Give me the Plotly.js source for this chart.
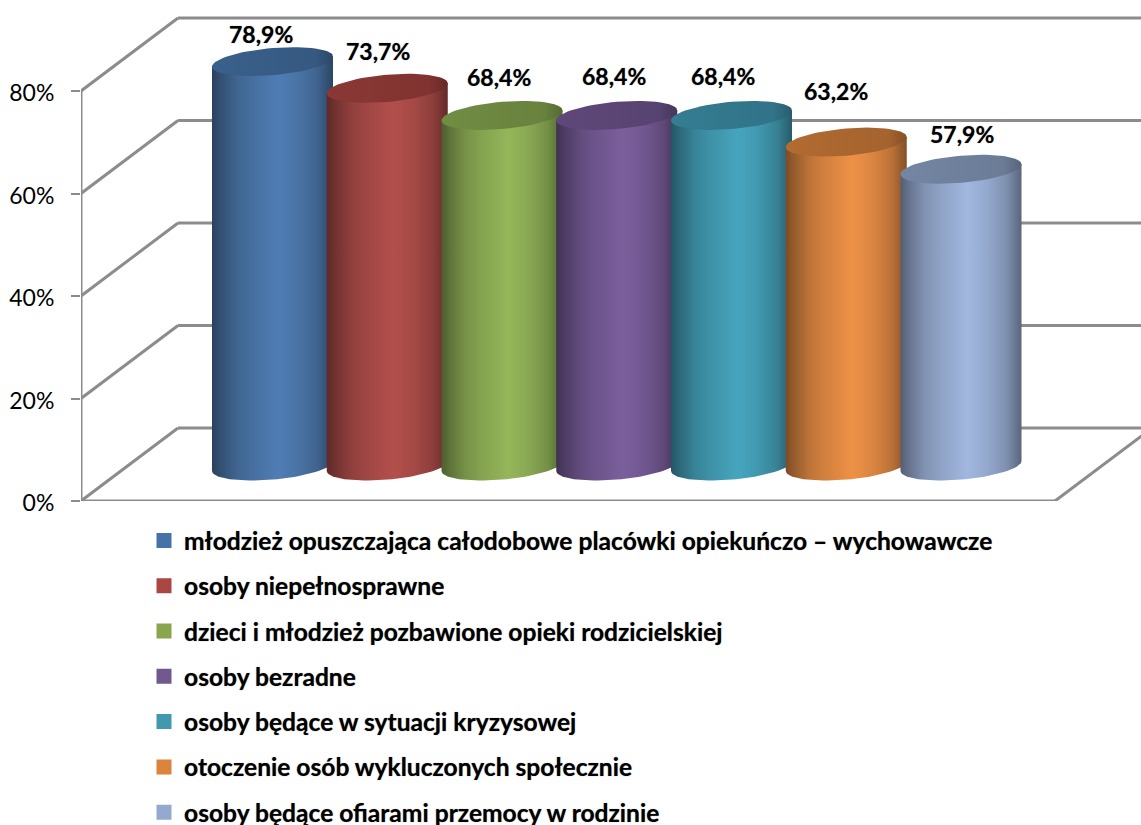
<!DOCTYPE html>
<html>
<head>
<meta charset="utf-8">
<script src="https://cdn.plot.ly/plotly-3.0.1.min.js"></script>
<style>html,body{margin:0;padding:0;background:#fff;overflow:hidden}</style>
</head>
<body>
<div id="chart" style="width:1141px;height:825px"></div>
<script>
const categories = [
  "młodzież opuszczająca całodobowe placówki opiekuńczo – wychowawcze",
  "osoby niepełnosprawne",
  "dzieci i młodzież pozbawione opieki rodzicielskiej",
  "osoby bezradne",
  "osoby będące w sytuacji kryzysowej",
  "otoczenie osób wykluczonych społecznie",
  "osoby będące ofiarami przemocy w rodzinie"
];
const values = [78.9, 73.7, 68.4, 68.4, 68.4, 63.2, 57.9];
const tickValues = [0, 20, 40, 60, 80];
const barColors = ["#4f7db3", "#b34f4c", "#95b75a", "#7b5f9d", "#46a5be", "#ee9147", "#a1b7df"];
const topColors = ["#375c85", "#843532", "#6c8640", "#5a4574", "#32778c", "#aa662f", "#6f809c"];
const legendColors = ["#4572a7", "#aa4643", "#89a54e", "#71588f", "#4198af", "#db843d", "#93a9cf"];
const labelDx = [-11.5, -9.75, -3, -2.75, -8.5, -10.25, 0.5];
const labelDy = [27.6, 37.3, 38.5, 39.5, 39.5, 51.1, 35.3];

const FONT = "Lato, sans-serif";
const GRID = "#8c8c8c";
const BLUR = "0 0 1px rgba(0,0,0,0.55)";
const pxPerX = 114.75, pxPerY = 5.125;
const plotLeft = 81, plotBottom = 501, firstCenter = 272.5;
const xRange = [(plotLeft - firstCenter) / pxPerX, (1141 - firstCenter) / pxPerX];
const yTop = plotBottom / pxPerY;
const baseLift = 35 / pxPerY;
const depthX = 97 / pxPerX, depthY = 73 / pxPerY;
const floorEndX = (1055 - firstCenter) / pxPerX;
const rx = 60.5 / pxPerX, ry = 13.6 / pxPerY, tilt = 5 / pxPerY;

function shade(hex, f) {
  const n = parseInt(hex.slice(1), 16);
  const c = [n >> 16, (n >> 8) & 255, n & 255].map(v => Math.round(v * f));
  return `rgb(${c[0]},${c[1]},${c[2]})`;
}
const bodyStops = [[0, .52], [.06, .62], [.2, .8], [.32, .88], [.55, 1], [.72, .92], [.88, .78], [1, .55]];
const topStops = [[0, 1.05], [.5, 1], [.85, .97], [1, .78]];
function ramp(stops, hex) { return stops.map(s => [s[0], shade(hex, s[1])]); }

function arc(cx, cy, from, to, n) {
  const xs = [], ys = [];
  for (let k = 0; k <= n; k++) {
    const t = from + (to - from) * k / n;
    xs.push(cx + rx * Math.cos(t));
    ys.push(cy + ry * Math.sin(t) + tilt * Math.cos(t));
  }
  return [xs, ys];
}

const bars = categories.map((name, i) => ({
  type: "bar", name, x: [i], y: [values[i]], width: 0.88, yaxis: "y2",
  marker: {color: legendColors[i], line: {color: legendColors[i], width: 3}},
  legendgroup: "g" + i, hovertemplate: "%{y}%<extra></extra>"
}));

const cylinders = [];
categories.forEach((name, i) => {
  const [bx, by] = arc(i, 0, Math.PI, 2 * Math.PI, 40);
  const body = {
    type: "scatter", mode: "lines", yaxis: "y2", showlegend: false, hoverinfo: "skip",
    x: [...bx, i + rx, i - rx, bx[0]],
    y: [...by, values[i] + tilt, values[i] - tilt, by[0]],
    line: {width: 0}, fill: "toself",
    fillgradient: {type: "horizontal", colorscale: ramp(bodyStops, barColors[i])}
  };
  const [tx, ty] = arc(i, values[i], 0, 2 * Math.PI, 72);
  const top = {
    type: "scatter", mode: "lines", yaxis: "y2", showlegend: false, hoverinfo: "skip",
    x: tx, y: ty, line: {width: 0}, fill: "toself",
    fillgradient: {type: "horizontal", colorscale: ramp(topStops, topColors[i])}
  };
  cylinders.push(body, top);
});

const wall = {color: GRID, width: 3};
const shapes = [];
function seg(x0, y0, x1, y1) {
  shapes.push({type: "line", layer: "below", xref: "x", yref: "y", x0, y0, x1, y1, line: wall});
}
tickValues.forEach(v => {
  seg(xRange[0], v, xRange[0] + depthX, v + depthY);
  seg(xRange[0] + depthX, v + depthY, xRange[1], v + depthY);
});
seg(xRange[0], 0, xRange[0], tickValues[tickValues.length - 1]);
seg(xRange[0], 0, floorEndX, 0);
seg(floorEndX, 0, floorEndX + depthX, depthY);

const annotations = values.map((v, i) => ({
  xref: "x", yref: "y2", x: i, y: v, xshift: labelDx[i], yshift: labelDy[i],
  text: v.toFixed(1).replace(".", ",") + "%", showarrow: false, xanchor: "center", yanchor: "middle",
  font: {family: FONT, size: 23, color: "#000", weight: 700, shadow: BLUR}
}));

const layout = {
  width: 1141, height: 825, paper_bgcolor: "#fff", plot_bgcolor: "rgba(0,0,0,0)",
  margin: {l: plotLeft, r: 0, t: 0, b: 825 - plotBottom, pad: 0, autoexpand: false},
  barmode: "overlay", showlegend: true, shapes, annotations,
  xaxis: {range: xRange, visible: false, fixedrange: true},
  yaxis: {range: [0, yTop], tickvals: tickValues, ticktext: tickValues.map(v => v + "%"),
    ticks: "outside", ticklen: 9, tickwidth: 2, tickcolor: GRID, showgrid: false, zeroline: false, showline: false,
    ticklabelstandoff: 12, ticklabelshift: 2,
    tickfont: {family: FONT, size: 23, color: "#000"}, fixedrange: true},
  yaxis2: {range: [-baseLift, yTop - baseLift], overlaying: "y", visible: false, fixedrange: true},
  legend: {xref: "container", yref: "container", x: 155.5 / 1141, xanchor: "left", y: 1 - 518 / 825, yanchor: "top",
    orientation: "v", traceorder: "grouped", tracegroupgap: 10.3, indentation: -11.5, borderwidth: 0,
    bgcolor: "rgba(0,0,0,0)",
    font: {family: FONT, size: 24.6, color: "#000", weight: 700, shadow: BLUR}},
  hovermode: "closest"
};
Plotly.newPlot("chart", [...bars, ...cylinders], layout, {displayModeBar: false});
</script>
</body>
</html>
